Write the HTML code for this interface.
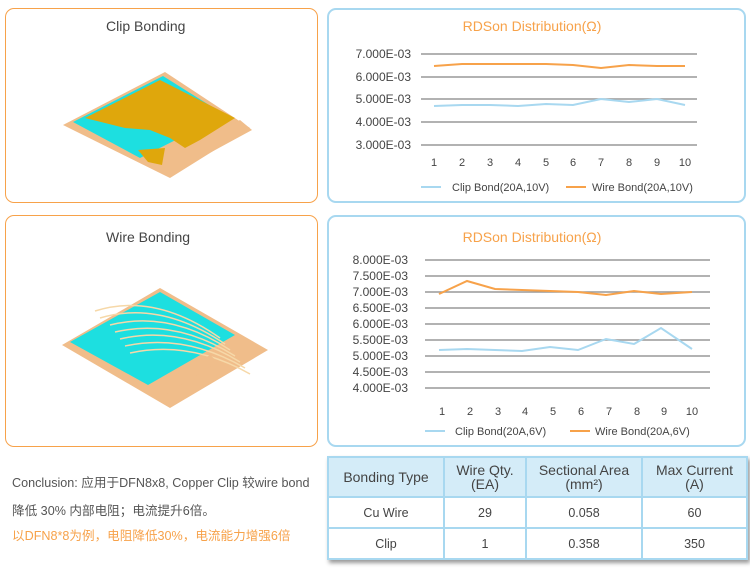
<!DOCTYPE html>
<html><head><meta charset="utf-8"><style>
body{margin:0;width:750px;height:584px;background:#fff;font-family:"Liberation Sans","Noto Sans CJK SC",sans-serif;position:relative;overflow:hidden}
.box{position:absolute;border-radius:9px;box-sizing:border-box}
.o{border:1.5px solid #f7a24a}
.b{border:2px solid #a8d8f0}
.t{position:absolute;font-size:14px;color:#444}
table{position:absolute;left:327px;top:456px;width:421px;border-collapse:collapse;font-size:12.5px;color:#444;box-shadow:2px 3px 4px #999}
td{border:2px solid #a8d8f0;text-align:center;padding:0;background:#fff}
tr.h td{background:#d4ecf8;font-size:14px;line-height:14px;height:38px}
tr.r td{height:29px}
</style></head><body>
<div class="box o" style="left:5px;top:8px;width:313px;height:195px"></div>
<div class="box o" style="left:5px;top:215px;width:313px;height:232px"></div>
<div class="box b" style="left:327px;top:8px;width:419px;height:195px"></div>
<div class="box b" style="left:327px;top:215px;width:419px;height:232px"></div>
<div class="t" style="left:106px;top:18px">Clip Bonding</div>
<div class="t" style="left:106px;top:229px">Wire Bonding</div>

<svg width="750" height="584" style="position:absolute;left:0;top:0">
<!-- clip illustration -->
<polygon points="63,125 165,72 250,128 170,178" fill="#f0bd8a"/>
<polygon points="73,122 163,76 225,115 140,158" fill="#1ddfe0"/>
<polygon points="85,118 160,80 235,118 200,140 185,148 170,138 150,130 125,128" fill="#dfa70c"/>
<polygon points="138,150 165,148 162,165 148,162" fill="#dfa70c"/>
<polygon points="170,158 240,120 252,130 182,168" fill="#f0bd8a"/>
<!-- wire illustration -->
<polygon points="62,345 160,288 268,350 170,408" fill="#f0bd8a"/>
<polygon points="70,342 160,292 235,335 148,385" fill="#1ddfe0"/>
<g stroke="#f6d8a8" stroke-width="1.5" fill="none">
<path d="M110,325 Q170,310 230,350"/><path d="M115,332 Q175,318 235,356"/><path d="M120,339 Q180,325 240,362"/><path d="M125,346 Q185,333 245,368"/><path d="M130,353 Q190,340 250,374"/><path d="M100,318 Q160,300 225,344"/><path d="M95,311 Q155,292 220,338"/>
</g>
<polygon points="150,390 210,355 218,362 160,398" fill="#f0bd8a"/>

<!-- chart 1 -->
<text x="532" y="31" font-size="14" fill="#f7a24a" text-anchor="middle" font-family="Liberation Sans">RDSon Distribution(Ω)</text>
<g stroke="#999" stroke-width="1.5">
<line x1="421" y1="54" x2="697" y2="54"/><line x1="421" y1="77" x2="697" y2="77"/><line x1="421" y1="99" x2="697" y2="99"/><line x1="421" y1="122" x2="697" y2="122"/><line x1="421" y1="145" x2="697" y2="145"/>
</g>
<g font-size="12" fill="#444" text-anchor="end" font-family="Liberation Sans">
<text x="411" y="58">7.000E-03</text><text x="411" y="81">6.000E-03</text><text x="411" y="103">5.000E-03</text><text x="411" y="126">4.000E-03</text><text x="411" y="149">3.000E-03</text>
</g>
<g font-size="11" fill="#444" text-anchor="middle" font-family="Liberation Sans">
<text x="434" y="166">1</text><text x="462" y="166">2</text><text x="490" y="166">3</text><text x="518" y="166">4</text><text x="546" y="166">5</text><text x="573" y="166">6</text><text x="601" y="166">7</text><text x="629" y="166">8</text><text x="657" y="166">9</text><text x="685" y="166">10</text>
</g>
<polyline fill="none" stroke="#f7a24a" stroke-width="2" points="434,66 462,64 490,64 518,64 546,64 573,65 601,68 629,65 657,66 685,66"/>
<polyline fill="none" stroke="#a8d8f0" stroke-width="2" points="434,106 462,105 490,105 518,106 546,104 573,105 601,99 629,102 657,99 685,105"/>
<line x1="421" y1="187" x2="441" y2="187" stroke="#a8d8f0" stroke-width="2"/>
<text x="452" y="191" font-size="11" fill="#444" font-family="Liberation Sans">Clip Bond(20A,10V)</text>
<line x1="566" y1="187" x2="586" y2="187" stroke="#f7a24a" stroke-width="2"/>
<text x="592" y="191" font-size="11" fill="#444" font-family="Liberation Sans">Wire Bond(20A,10V)</text>

<!-- chart 2 -->
<text x="532" y="242" font-size="14" fill="#f7a24a" text-anchor="middle" font-family="Liberation Sans">RDSon Distribution(Ω)</text>
<g stroke="#999" stroke-width="1.5">
<line x1="425" y1="260" x2="710" y2="260"/><line x1="425" y1="276" x2="710" y2="276"/><line x1="425" y1="292" x2="710" y2="292"/><line x1="425" y1="308" x2="710" y2="308"/><line x1="425" y1="324" x2="710" y2="324"/><line x1="425" y1="340" x2="710" y2="340"/><line x1="425" y1="356" x2="710" y2="356"/><line x1="425" y1="372" x2="710" y2="372"/><line x1="425" y1="388" x2="710" y2="388"/>
</g>
<g font-size="12" fill="#444" text-anchor="end" font-family="Liberation Sans">
<text x="408" y="264">8.000E-03</text><text x="408" y="280">7.500E-03</text><text x="408" y="296">7.000E-03</text><text x="408" y="312">6.500E-03</text><text x="408" y="328">6.000E-03</text><text x="408" y="344">5.500E-03</text><text x="408" y="360">5.000E-03</text><text x="408" y="376">4.500E-03</text><text x="408" y="392">4.000E-03</text>
</g>
<g font-size="11" fill="#444" text-anchor="middle" font-family="Liberation Sans">
<text x="442" y="415">1</text><text x="470" y="415">2</text><text x="498" y="415">3</text><text x="525" y="415">4</text><text x="553" y="415">5</text><text x="581" y="415">6</text><text x="609" y="415">7</text><text x="637" y="415">8</text><text x="664" y="415">9</text><text x="692" y="415">10</text>
</g>
<polyline fill="none" stroke="#f7a24a" stroke-width="2" points="439,294 467,281 495,289 522,290 550,291 578,292 606,295 634,291 661,294 692,292"/>
<polyline fill="none" stroke="#a8d8f0" stroke-width="2" points="439,350 467,349 495,350 522,351 550,347 578,350 606,339 634,344 661,328 692,349"/>
<line x1="425" y1="431" x2="445" y2="431" stroke="#a8d8f0" stroke-width="2"/>
<text x="455" y="435" font-size="11" fill="#444" font-family="Liberation Sans">Clip Bond(20A,6V)</text>
<line x1="570" y1="431" x2="590" y2="431" stroke="#f7a24a" stroke-width="2"/>
<text x="595" y="435" font-size="11" fill="#444" font-family="Liberation Sans">Wire Bond(20A,6V)</text>
</svg>

<div style="position:absolute;left:12px;top:472px;font-size:12.6px;color:#555">Conclusion: 应用于DFN8x8, Copper Clip 较wire bond</div>
<div style="position:absolute;left:12px;top:500px;font-size:12.6px;color:#555">降低 30% 内部电阻；电流提升6倍。</div>
<div style="position:absolute;left:12px;top:525px;font-size:12.6px;color:#f7a24a">以DFN8*8为例，电阻降低30%，电流能力增强6倍</div>

<table>
<tr class="h"><td style="width:114px">Bonding Type</td><td style="width:80px">Wire Qty.<br>(EA)</td><td style="width:114px">Sectional Area<br>(mm²)</td><td>Max Current<br>(A)</td></tr>
<tr class="r"><td>Cu Wire</td><td>29</td><td>0.058</td><td>60</td></tr>
<tr class="r"><td>Clip</td><td>1</td><td>0.358</td><td>350</td></tr>
</table>
</body></html>
